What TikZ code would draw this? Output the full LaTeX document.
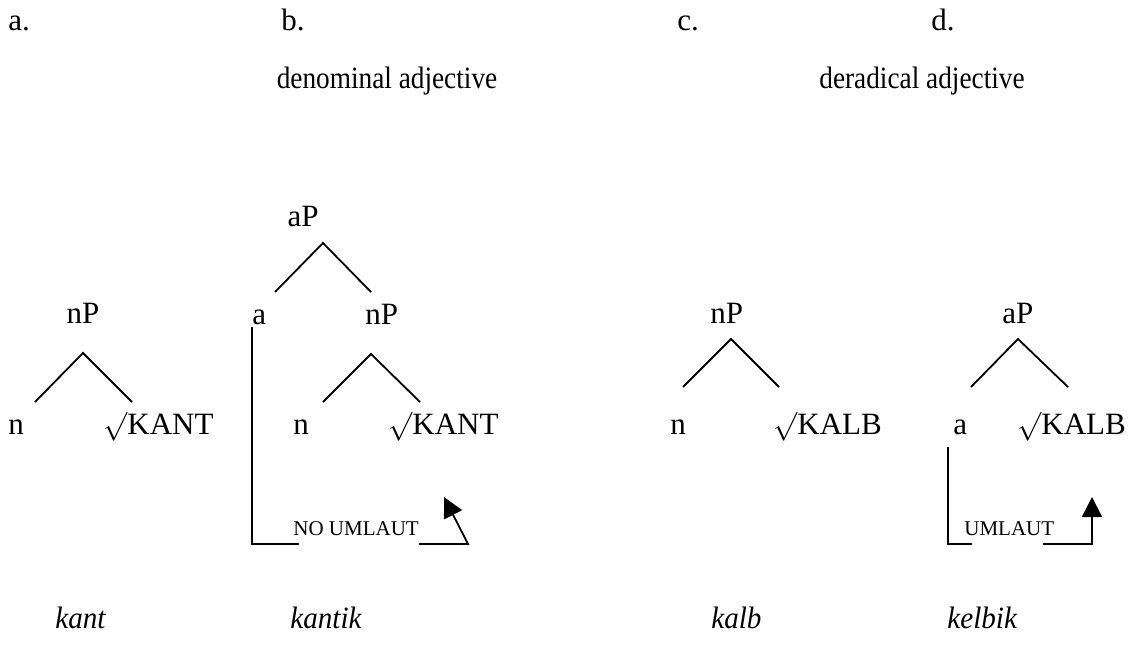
\documentclass[tikz,border=0pt]{standalone}
\usepackage{fontspec}
\setmainfont{Liberation Serif}
\usetikzlibrary{arrows.meta}
\tikzset{
  lbl/.style={anchor=base, inner sep=0pt, font=\fontsize{15.5}{18}\selectfont},
  hd/.style={anchor=base west, inner sep=0pt, font=\fontsize{15.5}{18}\selectfont},
  cat/.style={anchor=base, inner sep=0pt, xscale=0.88, font=\fontsize{15.5}{18}\selectfont},
  wd/.style={anchor=base west, inner sep=0pt, xscale=0.94, font=\fontsize{15.5}{18}\selectfont\itshape},
  sc/.style={anchor=base west, inner sep=0pt, font=\fontsize{10.5}{12}\selectfont},
  br/.style={line width=0.9pt},
}
\begin{document}
\begin{tikzpicture}[x=0.5pt, y=-0.5pt, >={Triangle[length=10pt, width=10pt]}]
  \useasboundingbox (0,0) rectangle (1128,648);

  % headings
  \node[hd] (hdA) at (8,30) {a.};
  \node[hd] (hdB) at (281,30) {b.};
  \node[hd] (hdC) at (677,30) {c.};
  \node[hd] (hdD) at (931,30) {d.};
  \node[cat] (catB) at (387,88) {denominal adjective};
  \node[cat] (catD) at (922,88) {deradical adjective};

  % a. kant
  \node[lbl] (nPa) at (83,323) {nP};
  \node[hd] (na) at (8,434) {n};
  \node[hd] (rootA) at (103,434) {$\surd$KANT};
  \coordinate (topA) at (83,353);
  \draw[br] (35,402) -- (topA) -- (132,402);

  % b. kantik
  \node[lbl] (aPb) at (303,226) {aP};
  \node[hd] (ab) at (252,324) {a};
  \node[hd] (nPb) at (365,324) {nP};
  \node[hd] (nb) at (293,434) {n};
  \node[hd] (rootB) at (388,434) {$\surd$KANT};
  \coordinate (topB) at (323,243);
  \coordinate (topBn) at (371,354);
  \draw[br] (275,292) -- (topB) -- (371,292);
  \draw[br] (323,402) -- (topBn) -- (420,402);
  \node[sc] (noUml) at (293,535) {NO UMLAUT};
  \coordinate (sb) at (252,327);
  \coordinate (cb1) at (252,544);
  \coordinate (cb2) at (299,544);
  \coordinate (cb3) at (419,544);
  \coordinate (cb4) at (468,544);
  \coordinate (tipB) at (444,497);
  \draw[br] (sb) -- (cb1) -- (cb2);
  \draw[br, ->] (cb3) -- (cb4) -- (tipB);

  % c. kalb
  \node[hd] (nPc) at (710,323) {nP};
  \node[hd] (nc) at (670,434) {n};
  \node[hd] (rootC) at (773,434) {$\surd$KALB};
  \coordinate (topC) at (731,339);
  \draw[br] (683,387) -- (topC) -- (779,387);

  % d. kelbik
  \node[hd] (aPd) at (1002,323) {aP};
  \node[hd] (ad) at (953,434) {a};
  \node[hd] (rootD) at (1017,434) {$\surd$KALB};
  \coordinate (topD) at (1018,339);
  \draw[br] (971,387) -- (topD) -- (1068,387);
  \node[sc] (uml) at (964,535) {UMLAUT};
  \coordinate (sd) at (948,447);
  \coordinate (cd1) at (948,544);
  \coordinate (cd2) at (972,544);
  \coordinate (cd3) at (1043,544);
  \coordinate (cd4) at (1092,544);
  \coordinate (tipD) at (1092,497);
  \draw[br] (sd) -- (cd1) -- (cd2);
  \draw[br, ->] (cd3) -- (cd4) -- (tipD);

  % words
  \node[wd] (wdA) at (55,628) {kant};
  \node[wd] (wdB) at (290,628) {kantik};
  \node[wd] (wdC) at (711,628) {kalb};
  \node[wd] (wdD) at (947,628) {kelbik};
\end{tikzpicture}
\end{document}
